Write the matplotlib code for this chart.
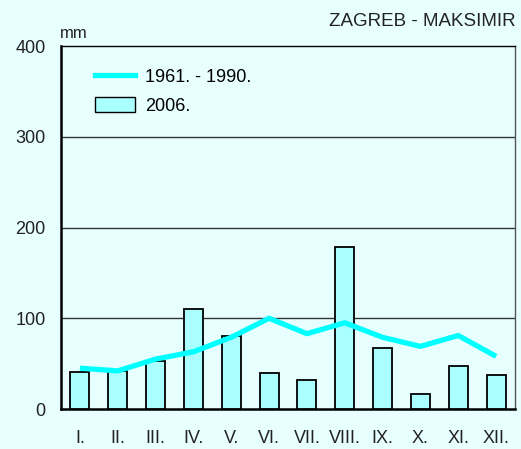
import matplotlib
matplotlib.use("Agg")
import matplotlib.pyplot as plt
from matplotlib.lines import Line2D
from matplotlib.patches import Patch

months = ["I.", "II.", "III.", "IV.", "V.", "VI.", "VII.", "VIII.", "IX.", "X.", "XI.", "XII."]
rain_2006 = [41, 42, 53, 110, 80, 40, 32, 178, 67, 17, 47, 37]
rain_normal = [45, 42, 55, 63, 79, 100, 83, 95, 79, 69, 81, 58]
y_ticks = [0, 100, 200, 300, 400]

BG = "#e8ffff"
BAR = "#aaffff"
LINE = "#00ffff"
TXT = "#222222"

plt.rcParams["font.family"] = ["Liberation Sans Narrow", "Liberation Sans", "DejaVu Sans"]

fig = plt.figure(figsize=(5.21, 4.49), dpi=100)
fig.patch.set_facecolor(BG)
ax = fig.add_axes([61 / 521, 1 - 409 / 449, 454 / 521, 363 / 449])
ax.set_facecolor(BG)

x = range(len(months))
ax.bar(x, rain_2006, width=0.5, color=BAR, edgecolor="black", linewidth=1.3, zorder=3)
ax.plot(x, rain_normal, color=LINE, linewidth=3.8, zorder=4, solid_capstyle="butt")

ax.set_xlim(-0.5, 11.5)
ax.set_ylim(0, 400)
ax.set_yticks(y_ticks)
ax.set_xticks(list(x))
ax.set_xticklabels(months)
ax.tick_params(length=0, labelsize=13, colors=TXT)
ax.tick_params(axis="x", pad=15)
ax.tick_params(axis="y", pad=11)
for yv in y_ticks[1:-1]:
    ax.axhline(yv, color="#333333", linewidth=1.0, zorder=1)

ax.spines["left"].set_linewidth(1.8)
ax.spines["bottom"].set_linewidth(1.8)
ax.spines["top"].set_linewidth(1.0)
ax.spines["right"].set_linewidth(1.0)
ax.spines["right"].set_color("#555555")

handles = [Line2D([0], [0], color=LINE, linewidth=3.8),
           Patch(facecolor=BAR, edgecolor="black", linewidth=1.0)]
ax.legend(handles, ["1961. - 1990.", "2006."], loc="upper left",
          bbox_to_anchor=(0.04, 0.985), frameon=False, fontsize=13,
          handlelength=2.2, handleheight=0.95, labelspacing=0.6, handletextpad=0.55)

fig.text(60 / 521, 1 - 33 / 449, "mm", fontsize=12, color=TXT, va="center")
fig.text(516 / 521, 1 - 21 / 449, "ZAGREB - MAKSIMIR", fontsize=13.5,
         color=TXT, ha="right", va="center")

fig.savefig("out.png", dpi=100, facecolor=BG)
